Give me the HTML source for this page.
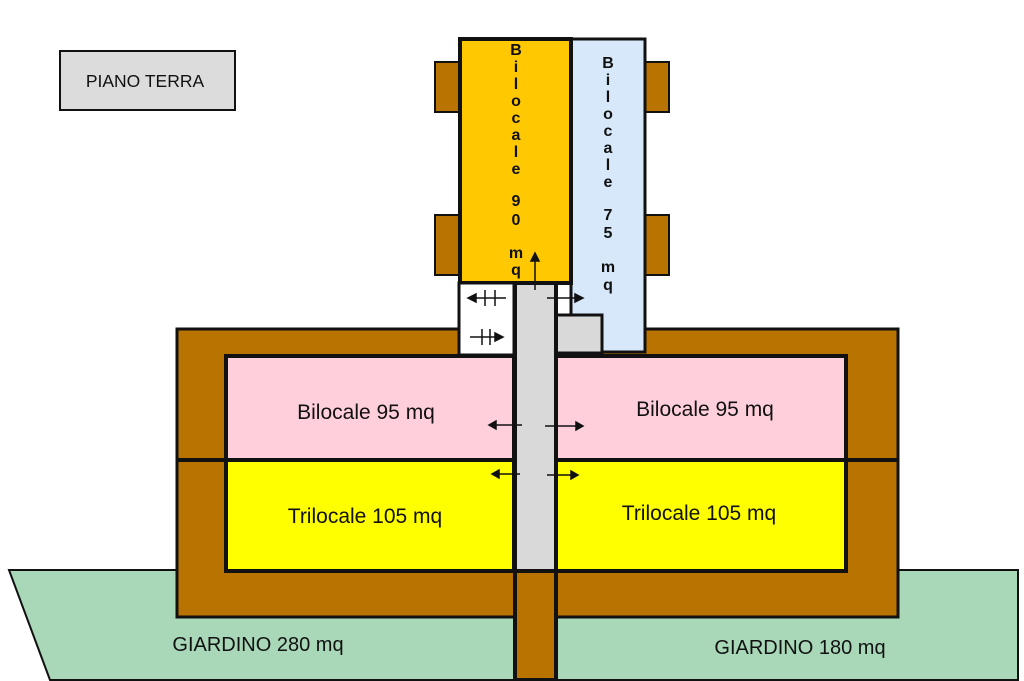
<!DOCTYPE html>
<html><head><meta charset="utf-8"><style>
html,body{margin:0;padding:0;background:#fff;}
svg{display:block}
text{font-family:"Liberation Sans",sans-serif;fill:#111}
</style></head><body>
<svg width="1024" height="681" viewBox="0 0 1024 681" xmlns="http://www.w3.org/2000/svg">
<rect width="1024" height="681" fill="#fff"/>
<polygon points="9,570 515,570 515,680 50,680" fill="#a8d8b8" stroke="#111" stroke-width="2"/>
<polygon points="555,570 1018,570 1018,680 555,680" fill="#a8d8b8" stroke="#111" stroke-width="2"/>
<rect x="177" y="329" width="721" height="288" fill="#b87300" stroke="#111" stroke-width="3"/>
<line x1="177" y1="460" x2="898" y2="460" stroke="#111" stroke-width="4"/>
<rect x="226" y="356" width="288" height="104" fill="#ffd0dc" stroke="#111" stroke-width="4"/>
<rect x="226" y="460" width="288" height="111" fill="#ffff00" stroke="#111" stroke-width="4"/>
<rect x="556" y="356" width="290" height="104" fill="#ffd0dc" stroke="#111" stroke-width="4"/>
<rect x="556" y="460" width="290" height="111" fill="#ffff00" stroke="#111" stroke-width="4"/>
<rect x="435" y="62" width="24" height="50" fill="#b87300" stroke="#111" stroke-width="2"/>
<rect x="435" y="215" width="24" height="60" fill="#b87300" stroke="#111" stroke-width="2"/>
<rect x="645" y="62" width="24" height="50" fill="#b87300" stroke="#111" stroke-width="2"/>
<rect x="645" y="215" width="24" height="60" fill="#b87300" stroke="#111" stroke-width="2"/>
<rect x="571" y="39" width="74" height="313" fill="#d6e8fa" stroke="#111" stroke-width="3"/>
<rect x="460" y="39" width="111" height="244" fill="#ffc800" stroke="#111" stroke-width="4"/>
<rect x="459" y="283" width="55" height="72" fill="#fff" stroke="#111" stroke-width="3"/>
<rect x="556" y="315" width="46" height="38" fill="#d9d9d9" stroke="#111" stroke-width="3"/>
<rect x="515" y="283" width="41" height="288" fill="#d9d9d9" stroke="#111" stroke-width="4"/>
<rect x="515" y="571" width="41" height="109" fill="#b87300" stroke="#111" stroke-width="4"/>
<rect x="60" y="51" width="175" height="59" fill="#dcdcdc" stroke="#111" stroke-width="2"/>
<text x="145" y="87" font-size="17.5" text-anchor="middle">PIANO TERRA</text>
<g font-size="16" font-weight="bold" text-anchor="middle">
<text x="516" y="55">B</text><text x="516" y="72">i</text><text x="516" y="89">l</text><text x="516" y="106">o</text><text x="516" y="123">c</text><text x="516" y="140">a</text><text x="516" y="157">l</text><text x="516" y="174">e</text>
<text x="516" y="206">9</text><text x="516" y="225">0</text><text x="516" y="258">m</text><text x="516" y="275">q</text>
<text x="608" y="68">B</text><text x="608" y="85">i</text><text x="608" y="102">l</text><text x="608" y="119">o</text><text x="608" y="136">c</text><text x="608" y="153">a</text><text x="608" y="170">l</text><text x="608" y="187">e</text>
<text x="608" y="220">7</text><text x="608" y="238">5</text><text x="608" y="272">m</text><text x="608" y="290">q</text>
</g>
<g font-size="21" text-anchor="middle">
<text x="366" y="419">Bilocale 95 mq</text>
<text x="705" y="416">Bilocale 95 mq</text>
<text x="365" y="523">Trilocale 105 mq</text>
<text x="699" y="520">Trilocale 105 mq</text>
<text x="258" y="651" font-size="20">GIARDINO 280 mq</text>
<text x="800" y="654" font-size="20">GIARDINO 180 mq</text>
</g>
<g stroke="#111" stroke-width="1.5" fill="#111">
<line x1="535" y1="290" x2="535" y2="258"/><polygon points="535,253 531,261 539,261"/>
<line x1="547" y1="298" x2="578" y2="298"/><polygon points="583,298 575,294 575,302"/>
<line x1="473" y1="298" x2="506" y2="298"/><polygon points="468,298 476,294 476,302"/>
<line x1="485" y1="290" x2="485" y2="306"/><line x1="495" y1="290" x2="495" y2="306"/>
<line x1="470" y1="337" x2="498" y2="337"/><polygon points="503,337 495,333 495,341"/>
<line x1="482" y1="329" x2="482" y2="345"/><line x1="490" y1="329" x2="490" y2="345"/>
<line x1="493" y1="425" x2="522" y2="425"/><polygon points="489,425 496,421 496,429"/>
<line x1="545" y1="426" x2="578" y2="426"/><polygon points="583,426 576,422 576,430"/>
<line x1="496" y1="474" x2="520" y2="474"/><polygon points="492,474 499,470 499,478"/>
<line x1="547" y1="475" x2="573" y2="475"/><polygon points="578,475 571,471 571,479"/>
</g>
</svg>
</body></html>
